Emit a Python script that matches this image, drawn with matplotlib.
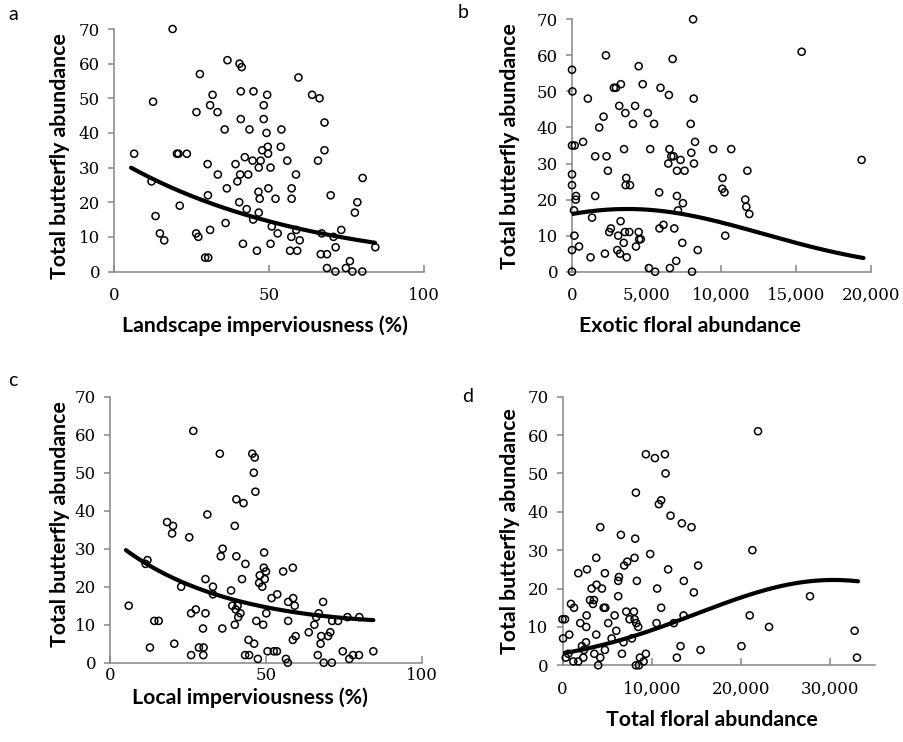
import matplotlib
matplotlib.use("Agg")
import matplotlib.pyplot as plt
import numpy as np
from matplotlib.ticker import FuncFormatter

W, H = 904, 742

# panel a: landscape imperviousness (%) vs butterflies
a_x = [18.9, 6.5, 12.6, 12.1, 13.4, 14.8, 16.2, 20.3, 20.8, 23.5,
       21.2, 26.6, 27.7, 26.5, 27.2, 29.4, 30.4, 30.2, 30.3, 31.0,
       31.0, 31.8, 33.4, 33.5, 35.7, 36.0, 36.6, 36.4, 39.2, 39.8,
       40.4, 40.5, 41.2, 40.7, 40.9, 40.9, 41.6, 42.2, 42.8, 43.3,
       43.7, 44.7, 44.9, 45.0, 46.1, 46.6, 46.7, 46.7, 47.0, 47.3,
       47.8, 48.3, 48.3, 49.2, 49.4, 49.6, 49.7, 49.8, 50.5, 50.5,
       50.9, 52.1, 52.8, 54.0, 53.8, 55.9, 58.7, 57.3, 57.3, 59.5,
       58.8, 57.2, 59.9, 56.8, 59.1, 63.9, 66.3, 67.9, 67.9, 65.8,
       69.9, 67.0, 70.8, 73.3, 71.5, 66.7, 68.7, 68.7, 71.4, 76.1,
       74.8, 76.9, 80.1, 80.2, 78.5, 77.7, 84.3]
a_y = [70, 34, 49, 26, 16, 11, 9, 34, 34, 34,
       19, 46, 57, 11, 10, 4, 4, 31, 22, 12,
       48, 51, 46, 28, 41, 14, 61, 24, 31, 26,
       20, 60, 59, 28, 52, 44, 8, 33, 18, 28,
       41, 32, 15, 52, 6, 23, 17, 30, 21, 32,
       35, 48, 44, 40, 51, 36, 34, 24, 30, 8,
       13, 21, 11, 41, 36, 32, 28, 24, 21, 56,
       12, 10, 9, 6, 6, 51, 50, 43, 35, 32,
       22, 11, 10, 12, 7, 5, 5, 1, 0, 3,
       1, 0, 0, 27, 20, 17, 7]

# panel b: exotic floral abundance
b_x = [8100, 2270, 6730, 0, 4460, 30, 2800, 2940, 3270, 4730,
       5920, 6480, 8140, 1060, 3160, 4220, 3570, 5070, 2110, 1820,
       4080, 5490, 7940, 0, 180, 740, 8230, 3480, 5230, 6520,
       9440, 10650, 1550, 2310, 6640, 6790, 7980, 7260, 6440, 8160,
       7020, 7530, 2400, 0, 0, 3630, 3590, 3880, 10070, 10050,
       10200, 270, 250, 1550, 5830, 7020, 7420, 130, 7090, 1340,
       3250, 2600, 2490, 3090, 3540, 3830, 4460, 5850, 6120, 6840,
       3460, 4490, 4600, 4280, 7380, 160, 0, 470, 1240, 2200,
       3030, 3210, 3660, 8410, 10250, 5140, 5560, 6550, 6970, 8030,
       0, 15360, 19370, 11730, 11590, 11660, 11860]
b_y = [70, 60, 59, 56, 57, 50, 51, 51, 52, 52,
       51, 49, 48, 48, 46, 46, 44, 44, 43, 40,
       41, 41, 41, 35, 35, 36, 36, 34, 34, 34,
       34, 34, 32, 32, 32, 32, 33, 31, 30, 30,
       28, 28, 28, 27, 24, 26, 24, 24, 26, 23,
       22, 21, 20, 21, 22, 21, 19, 17, 17, 15,
       14, 12, 11, 10, 11, 11, 11, 12, 13, 12,
       8, 9, 9, 7, 8, 10, 6, 7, 4, 5,
       6, 5, 4, 6, 10, 1, 0, 1, 3, 0,
       0, 61, 31, 28, 20, 18, 16]

# panel c: local imperviousness (%)
c_x = [26.7, 35.2, 45.6, 46.4, 46.1, 46.6, 40.5, 42.8, 31.2, 40.0,
       18.3, 20.2, 19.9, 25.4, 36.1, 35.5, 40.5, 43.4, 49.4, 12.0,
       11.4, 49.3, 50.0, 48.0, 49.6, 47.8, 48.8, 42.3, 30.6, 22.8,
       33.0, 33.0, 38.8, 51.8, 53.6, 6.0, 39.2, 40.9, 40.3, 41.8,
       41.1, 26.0, 27.5, 30.6, 50.1, 14.2, 15.6, 46.9, 40.0, 49.1,
       29.8, 36.0, 44.4, 46.2, 12.8, 20.6, 28.5, 30.0, 26.0, 29.9,
       43.3, 44.6, 47.4, 50.5, 52.5, 53.5, 55.5, 58.6, 57.1, 58.7,
       59.2, 57.1, 58.6, 59.5, 56.4, 57.0, 68.3, 66.9, 66.1, 65.5,
       63.7, 67.7, 67.5, 69.9, 70.6, 71.2, 73.1, 76.1, 79.9, 66.6,
       68.5, 71.1, 74.6, 76.7, 77.9, 79.8, 84.4]
c_y = [61, 55, 55, 54, 50, 45, 43, 42, 39, 36,
       37, 36, 34, 33, 30, 28, 28, 26, 29, 27,
       26, 25, 24, 23, 22, 21, 20, 22, 22, 20,
       20, 18, 19, 17, 18, 15, 15, 15, 14, 13,
       12, 13, 14, 13, 13, 11, 11, 11, 10, 10,
       9, 9, 6, 5, 4, 5, 4, 4, 2, 2,
       2, 2, 1, 3, 3, 3, 24, 25, 16, 17,
       15, 11, 6, 7, 1, 0, 16, 13, 12, 10,
       8, 7, 5, 7, 8, 11, 11, 12, 12, 2,
       0, 0, 3, 1, 2, 2, 3]

# panel d: total floral abundance
d_x = [9340, 10350, 11470, 11540, 8220, 11050, 10790, 12100, 13370, 14450,
       4230, 6540, 8140, 3780, 9820, 8070, 6910, 7250, 15190, 1770,
       2740, 4750, 11830, 6320, 6240, 8330, 13590, 3260, 3820, 4420,
       10600, 14710, 6240, 3080, 3520, 3410, 950, 1290, 4610, 4790,
       11050, 7140, 8000, 2700, 5840, 0, 280, 7510, 8070, 8260,
       13560, 1990, 2660, 5120, 10530, 12470, 8480, 6020, 60, 760,
       3780, 5500, 7770, 2180, 2630, 6840, 4750, 2400, 13220, 15460,
       3560, 4230, 6660, 360, 650, 1210, 1770, 2330, 4000, 8670,
       9340, 8220, 8560, 9080, 12810, 21900, 21270, 27720, 20970, 23130,
       20040, 32720, 32980]
d_y = [55, 54, 55, 50, 45, 43, 42, 39, 37, 36,
       36, 34, 33, 28, 29, 28, 26, 27, 26, 24,
       25, 24, 25, 23, 22, 22, 22, 20, 21, 20,
       20, 19, 18, 17, 17, 16, 16, 15, 15, 15,
       15, 14, 14, 13, 13, 12, 12, 12, 12, 11,
       13, 11, 10, 11, 11, 11, 10, 9, 7, 8,
       8, 7, 7, 5, 6, 6, 4, 4, 5, 4,
       3, 2, 3, 2, 3, 1, 1, 2, 0, 2,
       3, 0, 0, 1, 2, 61, 30, 18, 13, 10,
       5, 9, 2]

# fitted models: log(mu) = c0 + c1*x + c2*x^2, drawn over the fitted x range
fit_a = [3.490, -0.01633, 0.0]
fit_b = [2.7726, 4.51e-5, -6.1e-9]
fit_c = [3.495, -0.02137, 1.017e-4]
fit_d = [1.131, 1.298e-4, -2.137e-9]
range_a = [5.5, 84.2]
range_b = [0, 19500]
range_c = [5.1, 84.4]
range_d = [0, 33100]

ylab = "Total butterfly abundance"
grey = "#868686"
tickfont = "DejaVu Serif"
labfont = ["Lato", "DejaVu Sans"]

fig = plt.figure(figsize=(W / 100, H / 100), dpi=100)


def make_ax(l, r, t, b):
    return fig.add_axes([l / W, 1 - b / H, (r - l) / W, (b - t) / H])


def panel(ax, x, y, coef, rng, xlim, xticks, comma, xpad=11):
    ax.scatter(x, y, s=26, facecolors="none", edgecolors="black",
               linewidths=1.1, zorder=3, clip_on=False)
    xs = np.linspace(rng[0], rng[1], 200)
    mu = np.exp(coef[0] + coef[1] * xs + coef[2] * xs ** 2)
    ax.plot(xs, mu, color="black", lw=3.0, solid_capstyle="round", zorder=4)
    ax.set_xlim(xlim)
    ax.set_ylim(0, 70)
    ax.set_xticks(xticks)
    ax.set_yticks(range(0, 71, 10))
    if comma:
        ax.xaxis.set_major_formatter(FuncFormatter(lambda v, p: f"{v:,.0f}"))
    for s in ["top", "right"]:
        ax.spines[s].set_visible(False)
    for s in ["left", "bottom"]:
        ax.spines[s].set_color(grey)
        ax.spines[s].set_linewidth(1.1)
    ax.tick_params(axis="y", direction="out", length=4, width=1.1,
                   color=grey, pad=6)
    ax.tick_params(axis="x", direction="in", length=5, width=1.1,
                   color=grey, pad=xpad)
    for lab in ax.get_xticklabels() + ax.get_yticklabels():
        lab.set_fontfamily(tickfont)
        lab.set_fontsize(12)


ax_a = make_ax(114, 424, 29, 271.5)
panel(ax_a, a_x, a_y, fit_a, range_a, (0, 100), [0, 50, 100], False)
ax_b = make_ax(572, 871, 19.3, 271.7)
panel(ax_b, b_x, b_y, fit_b, range_b, (0, 20000), range(0, 20001, 5000), True)
ax_c = make_ax(110, 422, 396.7, 662.7)
panel(ax_c, c_x, c_y, fit_c, range_c, (0, 100), [0, 50, 100], False, xpad=3)
ax_d = make_ax(562.5, 875, 396.7, 665.3)
panel(ax_d, d_x, d_y, fit_d, range_d, (0, 35000), range(0, 30001, 10000), True)


def ftext(px, py, s, **kw):
    fig.text(px / W, 1 - py / H, s, ha="center", va="center", **kw)


lab_kw = dict(family=labfont, fontweight="bold", fontsize=15.3)
ftext(60, 156, ylab, rotation=90, **lab_kw)
ftext(510, 146, ylab, rotation=90, **lab_kw)
ftext(60, 524, ylab, rotation=90, **lab_kw)
ftext(510, 531, ylab, rotation=90, **lab_kw)
ftext(265, 326, "Landscape imperviousness (%)", **lab_kw)
ftext(690, 326, "Exotic floral abundance", **lab_kw)
ftext(250, 698, "Local imperviousness (%)", **lab_kw)
ftext(712, 720, "Total floral abundance", **lab_kw)

let_kw = dict(family=labfont, fontsize=14)
ftext(13, 15, "a", **let_kw)
ftext(463, 12, "b", **let_kw)
ftext(13, 380, "c", **let_kw)
ftext(468, 396, "d", **let_kw)

fig.savefig("out.png", dpi=100)
